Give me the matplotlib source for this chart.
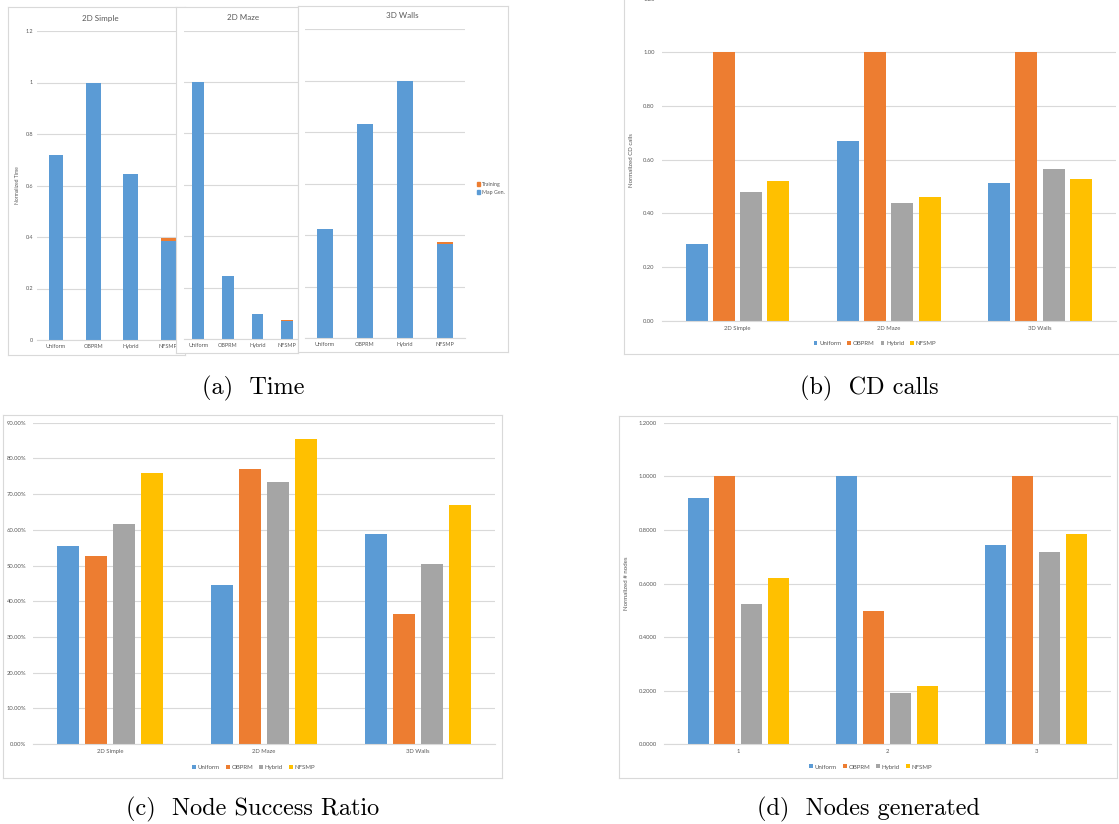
import matplotlib
matplotlib.use("Agg")
import matplotlib.pyplot as plt
from matplotlib.patches import Patch
import numpy as np

# data
methods = ["Uniform", "OBPRM", "Hybrid", "NFSMP"]
envs = ["2D Simple", "2D Maze", "3D Walls"]
node_envs = ["1", "2", "3"]

# (a) normalized time, stacked map generation + training
time_simple_map = [0.717, 1.0, 0.646, 0.385]
time_simple_train = [0.0, 0.0, 0.0, 0.010]
time_maze_map = [1.0, 0.246, 0.096, 0.071]
time_maze_train = [0.0, 0.0, 0.0, 0.004]
time_walls_map = [0.424, 0.834, 1.0, 0.368]
time_walls_train = [0.0, 0.0, 0.0, 0.005]

# (b) normalized CD calls
cd_uniform = [0.287, 0.671, 0.514]
cd_obprm = [1.0, 1.0, 1.0]
cd_hybrid = [0.478, 0.440, 0.564]
cd_nfsmp = [0.520, 0.461, 0.527]

# (c) node success ratio (%)
succ_uniform = [55.5, 44.5, 58.7]
succ_obprm = [52.7, 76.9, 36.3]
succ_hybrid = [61.5, 73.4, 50.4]
succ_nfsmp = [76.0, 85.4, 67.0]

# (d) normalized number of nodes
nodes_uniform = [0.918, 1.0, 0.745]
nodes_obprm = [1.0, 0.498, 1.0]
nodes_hybrid = [0.523, 0.190, 0.718]
nodes_nfsmp = [0.620, 0.219, 0.785]

colors = ["#5B9BD5", "#ED7D31", "#A5A5A5", "#FFC000"]
GRID = "#d9d9d9"
TXT = "#595959"
FONT = "Lato"

W, H = 1119, 824
fig = plt.figure(figsize=(W / 100, H / 100), dpi=100)
fig.patch.set_facecolor("white")


def rect(x0, y0, x1, y1):
    return [x0 / W, 1 - y1 / H, (x1 - x0) / W, (y1 - y0) / H]


def ftext(x, y, s, **kw):
    kw.setdefault("color", TXT)
    kw.setdefault("family", FONT)
    fig.text(x / W, 1 - y / H, s, **kw)


def frame(x0, y0, x1, y1, z):
    bg = fig.add_axes(rect(x0, y0, x1, y1))
    bg.set_zorder(z)
    bg.set_xticks([])
    bg.set_yticks([])
    bg.set_facecolor("white")
    for sp in bg.spines.values():
        sp.set_color(GRID)
        sp.set_linewidth(0.8)
    return bg


def style(ax, fs):
    for name in ["top", "right", "left"]:
        ax.spines[name].set_visible(False)
    ax.spines["bottom"].set_color(GRID)
    ax.spines["bottom"].set_linewidth(0.8)
    ax.yaxis.grid(True, color=GRID, linewidth=0.8)
    ax.set_axisbelow(True)
    ax.tick_params(length=0, labelsize=fs, labelcolor=TXT)
    for lab in ax.get_xticklabels() + ax.get_yticklabels():
        lab.set_family(FONT)
    ax.patch.set_alpha(0)


# ---------------- (a) Time: three overlapping Excel charts ----------------
time_panels = [
    ("2D Simple", time_simple_map, time_simple_train, (8, 7, 185, 355), (37.3, 31, 187, 340), (100, 18)),
    ("2D Maze", time_maze_map, time_maze_train, (176, 7, 298, 353), (183.5, 30.7, 302, 339), (243, 18)),
    ("3D Walls", time_walls_map, time_walls_train, (298, 6, 508, 352), (305, 29.3, 465, 338.3), (402, 16)),
]
for i, (title, mp, tr, fr, ar, tpos) in enumerate(time_panels):
    bg = frame(*fr, z=2 * i + 1)
    bg.text(tpos[0] / W, 1 - tpos[1] / H, title, transform=fig.transFigure,
            fontsize=5.8, ha="center", va="center", color=TXT, family=FONT)
    ax = fig.add_axes(rect(*ar))
    ax.set_zorder(2 * i + 2)
    x = np.arange(len(methods))
    ax.bar(x, mp, width=0.4, color=colors[0])
    ax.bar(x, tr, width=0.4, bottom=mp, color=colors[1])
    ax.set_xlim(-0.5, 3.5)
    ax.set_ylim(0, 1.2)
    ax.set_yticks(np.arange(0, 1.21, 0.2))
    ax.set_xticks(x)
    ax.set_xticklabels(methods)
    if i == 0:
        ax.set_yticklabels([f"{v:g}" for v in np.round(np.arange(0, 1.21, 0.2), 1)])
        ax.tick_params(axis="y", pad=3)
        ax.set_ylabel("Normalized Time", fontsize=3.6, color=TXT, family=FONT, labelpad=4)
    else:
        ax.set_yticklabels([])
    style(ax, 4.0)
    ax.tick_params(axis="x", pad=3)
    if i == 2:
        ax.legend([Patch(color=colors[1]), Patch(color=colors[0])], ["Training", "Map Gen."],
                  loc="upper left", bbox_to_anchor=(472 / W, 1 - 177 / H), bbox_transform=fig.transFigure,
                  frameon=False, handlelength=0.6, handleheight=0.6,
                  handletextpad=0.4, labelspacing=0.6, labelcolor=TXT, prop={"family": FONT, "size": 3.8})


def grouped(ax, series, labels, width, pitch):
    x = np.arange(len(labels))
    for k, vals in enumerate(series):
        ax.bar(x + (k - 1.5) * pitch, vals, width=width, color=colors[k], label=methods[k])
    ax.set_xlim(-0.5, len(labels) - 0.5)
    ax.set_xticks(x)
    ax.set_xticklabels(labels)


def bottom_legend(ax, cx, cy):
    ax.legend(loc="center", bbox_to_anchor=(cx / W, 1 - cy / H), bbox_transform=fig.transFigure,
              ncol=4, frameon=False, handlelength=0.6, handleheight=0.6, handletextpad=0.3,
              columnspacing=1.0, labelcolor=TXT, prop={"family": FONT, "size": 4.4})


# ---------------- (b) CD calls ----------------
frame(624, -10, 1130, 354, z=1)
axb = fig.add_axes(rect(661.8, -1.4, 1115.7, 320.7))
axb.set_zorder(2)
grouped(axb, [cd_uniform, cd_obprm, cd_hybrid, cd_nfsmp], envs, 0.145, 0.18)
axb.set_ylim(0, 1.2)
axb.set_yticks(np.arange(0, 1.21, 0.2))
axb.set_yticklabels([f"{v:.2f}" for v in np.arange(0, 1.21, 0.2)])
style(axb, 4.2)
axb.tick_params(axis="y", pad=5)
axb.tick_params(axis="x", pad=3.5)
axb.set_ylabel("Normalized CD calls", fontsize=4.4, color=TXT, family=FONT, labelpad=7)
bottom_legend(axb, 875, 343.3)

# ---------------- (c) Node success ratio ----------------
frame(2.9, 415, 502.4, 778, z=1)
axc = fig.add_axes(rect(33.3, 422.7, 494.8, 744))
axc.set_zorder(2)
grouped(axc, [succ_uniform, succ_obprm, succ_hybrid, succ_nfsmp], envs, 0.143, 0.183)
axc.set_ylim(0, 90)
axc.set_yticks(np.arange(0, 91, 10))
axc.set_yticklabels([f"{v:.2f}%" for v in np.arange(0, 91, 10)])
style(axc, 4.2)
axc.tick_params(axis="y", pad=5)
axc.tick_params(axis="x", pad=3.5)
bottom_legend(axc, 253.6, 767.3)

# ---------------- (d) Nodes generated ----------------
frame(618.9, 415.7, 1116.7, 778, z=1)
axd = fig.add_axes(rect(664, 422.7, 1110.8, 744.3))
axd.set_zorder(2)
grouped(axd, [nodes_uniform, nodes_obprm, nodes_hybrid, nodes_nfsmp], node_envs, 0.141, 0.181)
axd.set_ylim(0, 1.2)
axd.set_yticks(np.arange(0, 1.21, 0.2))
axd.set_yticklabels([f"{v:.4f}" for v in np.arange(0, 1.21, 0.2)])
style(axd, 4.2)
axd.tick_params(axis="y", pad=5)
axd.tick_params(axis="x", pad=3.5)
axd.set_ylabel("Normalized # nodes", fontsize=4.4, color=TXT, family=FONT, labelpad=7)
bottom_legend(axd, 870.7, 767)

# ---------------- captions ----------------
cap = dict(fontsize=17.5, color="black", family="cmr10", ha="center", va="baseline")
ftext(253, 394, "(a)  Time", **cap)
ftext(869, 394, "(b)  CD calls", **cap)
ftext(252.7, 815, "(c)  Node Success Ratio", **cap)
ftext(868, 815, "(d)  Nodes generated", **cap)

fig.savefig("out.png", dpi=100)
